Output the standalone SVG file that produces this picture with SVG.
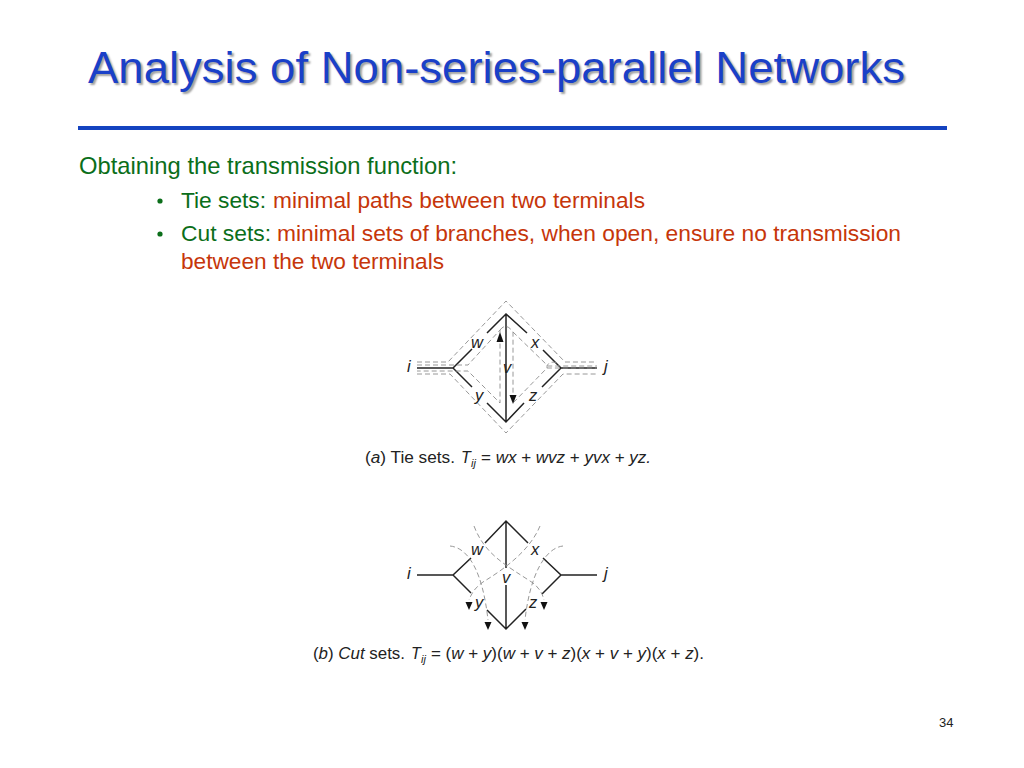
<svg xmlns="http://www.w3.org/2000/svg" width="1024" height="768" viewBox="0 0 1024 768">
<style>
text{font-family:"Liberation Sans",Arial,sans-serif}
.title{font-size:44px;fill:#1a40c8;text-shadow:2px 2px 2px #a0a0a0}
.g{fill:#0b6e1a}
.r{fill:#c6360a}
.body{font-size:22px}
.lab{font-size:16.5px;font-style:italic;fill:#222}
.cap{font-size:16px;fill:#222}
.i{font-style:italic}
.sub{font-size:11px;font-style:italic;fill:#222}
.wire{fill:none;stroke:#222;stroke-width:1.5}
.dash{fill:none;stroke:#8c8c8c;stroke-width:.9;stroke-dasharray:5 3}
.ah{fill:#111}
</style>
<rect width="1024" height="768" fill="#fff"/>
<text class="title" x="88" y="83" textLength="817" lengthAdjust="spacingAndGlyphs">Analysis of Non-series-parallel Networks</text>
<rect x="78" y="126" width="869" height="4" fill="#1443c0"/>
<text class="g" x="79" y="174" font-size="24" textLength="378" lengthAdjust="spacingAndGlyphs">Obtaining the transmission function:</text>
<g class="body">
<circle cx="160" cy="201" r="2.6" fill="#0b6e1a"/>
<text class="g" x="181" y="208" textLength="85" lengthAdjust="spacingAndGlyphs">Tie sets:</text>
<text class="r" x="273" y="208" textLength="372" lengthAdjust="spacingAndGlyphs">minimal paths between two terminals</text>
<circle cx="160" cy="234" r="2.6" fill="#0b6e1a"/>
<text class="g" x="181" y="241" textLength="90" lengthAdjust="spacingAndGlyphs">Cut sets:</text>
<text class="r" x="277" y="241" textLength="624" lengthAdjust="spacingAndGlyphs">minimal sets of branches, when open, ensure no transmission</text>
<text class="r" x="181" y="269" textLength="263" lengthAdjust="spacingAndGlyphs">between the two terminals</text>
</g>
<g id="connectors-a">
<path class="wire" d="M417 368H453L472 349M487 333L506 314L527 333M543 350L561 368H597M453 368L472 387M487 403L506 422L524 403M542 387L561 368M506 314V422"/>
<path class="dash" d="M417 362H448L506 301L565 362H597M417 365H468L500 330V403L468 371H417M417 374H450L506 433L563 374H597M500 330Q506 322 513 332V403L547 368H597M513 332L548 366H597M547 368A5 4 0 0 1 559 366"/>
<polygon class="ah" points="500,332 496.500,342 503.500,342"/>
<polygon class="ah" points="513,404 509.500,395 516.500,395"/>
</g>
<g id="connectors-b">
<path class="wire" d="M417 575H453L471 558M485 543L506 521L528 543M543 558L561 575H597M453 575L471 593M487 610L506 629L526 609M542 594L561 575M506 521V568M506 585V629"/>
<path class="dash" d="M450 546C470 548 483 575 488 620M474 526C485 555 506 565 533 583C538 587 542 592 544 600M540 526C530 550 506 568 483 582C476 587 472 592 469 600M563 546C545 548 530 575 525 620"/>
<polygon class="ah" points="469,610 465.500,602 472.500,602"/>
<polygon class="ah" points="488,630 484.500,622 491.500,622"/>
<polygon class="ah" points="544,610 540.500,602 547.500,602"/>
<polygon class="ah" points="525,630 521.500,622 528.500,622"/>
</g>
<g id="node-i-a"><text class="lab" x="407" y="372">i</text></g>
<g id="node-j-a"><text class="lab" x="604" y="372">j</text></g>
<g id="node-w-a"><text class="lab" x="471" y="348">w</text></g>
<g id="node-x-a"><text class="lab" x="531" y="348">x</text></g>
<g id="node-v-a"><text class="lab" x="503" y="373">v</text></g>
<g id="node-y-a"><text class="lab" x="475" y="401">y</text></g>
<g id="node-z-a"><text class="lab" x="529" y="401">z</text></g>
<g id="node-i-b"><text class="lab" x="407" y="579">i</text></g>
<g id="node-j-b"><text class="lab" x="604" y="579">j</text></g>
<g id="node-w-b"><text class="lab" x="471" y="555">w</text></g>
<g id="node-x-b"><text class="lab" x="531" y="555">x</text></g>
<g id="node-v-b"><text class="lab" x="502" y="583">v</text></g>
<g id="node-y-b"><text class="lab" x="475" y="608">y</text></g>
<g id="node-z-b"><text class="lab" x="529" y="608">z</text></g>
<g class="cap">
<text x="365" y="463" textLength="90" lengthAdjust="spacingAndGlyphs">(<tspan class="i">a</tspan>) Tie sets.</text>
<text class="i" x="461" y="463">T</text><text class="sub" x="471" y="467">ij</text>
<text x="481" y="463" textLength="170" lengthAdjust="spacingAndGlyphs">= <tspan class="i">wx</tspan> + <tspan class="i">wvz</tspan> + <tspan class="i">yvx</tspan> + <tspan class="i">yz.</tspan></text>
<text x="313" y="659" textLength="92" lengthAdjust="spacingAndGlyphs">(<tspan class="i">b</tspan>) <tspan class="i">Cut</tspan> sets.</text>
<text class="i" x="411" y="659">T</text><text class="sub" x="421" y="663">ij</text>
<text x="431" y="659" textLength="273" lengthAdjust="spacingAndGlyphs">= (<tspan class="i">w</tspan> + <tspan class="i">y</tspan>)(<tspan class="i">w</tspan> + <tspan class="i">v</tspan> + <tspan class="i">z</tspan>)(<tspan class="i">x</tspan> + <tspan class="i">v</tspan> + <tspan class="i">y</tspan>)(<tspan class="i">x</tspan> + <tspan class="i">z</tspan>).</text>
</g>
<text x="939" y="727" font-size="13" fill="#222">34</text>
</svg>
